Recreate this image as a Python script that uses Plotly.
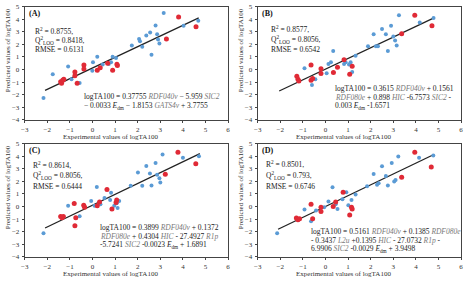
import plotly.graph_objects as go

# ---------------- data ----------------
panels = ["A", "B", "C", "D"]

A_blue_x = [-2.17, -1.76, -1.29, -1.08, -0.93, -0.57, -0.01, 0.02, 0.21, 0.45, 0.72, 0.82, 0.89, 1.04, 1.74, 2.06, 2.10, 2.20, 2.38, 2.55, 2.61, 2.79, 2.86, 2.90, 2.96, 3.15, 4.03, 4.68]
A_blue_y = [-2.25, -0.37, -0.76, 0.24, -0.76, -1.07, -0.10, 0.58, 1.02, 0.40, 0.45, 0.58, 1.02, 0.91, 1.92, 2.43, 2.25, 1.81, 2.71, 2.94, 1.17, 3.51, 2.81, 2.38, 2.07, 4.49, 3.48, 3.87]
A_red_x = [-1.41, -1.37, -1.32, -1.27, -0.78, -0.78, -0.68, -0.38, -0.38, 0.21, 0.34, 0.67, 0.89, 1.08, 1.10, 3.27, 3.81, 4.58]
A_red_y = [-0.96, -1.09, -0.84, -0.76, -0.19, -0.50, -1.09, 0.37, 0.04, -0.06, 0.14, 0.50, -0.06, 0.42, 0.32, 2.43, 4.18, 3.40]

B_blue_x = [-0.93, -0.60, -0.45, 0.05, 0.13, 0.24, 0.34, 0.82, 0.89, 1.04, 1.11, 1.18, 1.33, 1.88, 2.13, 2.23, 2.32, 2.50, 2.67, 2.76, 2.90, 3.00, 3.08, 3.15, 3.25, 4.17, 4.78]
B_blue_y = [0.11, -1.22, -0.76, -0.30, 0.45, 0.58, 1.48, 0.45, 0.58, 0.40, 0.58, -0.19, 1.10, 1.86, 2.81, 1.86, 1.86, 3.23, 2.81, 1.48, 3.48, 2.63, 2.30, 1.92, 4.31, 3.74, 4.10]
B_red_x = [-1.27, -1.22, -1.18, -0.64, -0.64, -0.57, -0.20, -0.20, 0.35, 0.53, 0.82, 1.07, 1.18, 3.37, 3.95, 4.71]
B_red_y = [-0.53, -0.76, -0.91, -0.84, 0.37, -0.71, 0.06, -0.32, -0.24, 0.19, 0.78, -0.37, 0.27, 2.84, 4.31, 3.48]

C_blue_x = [-2.17, -1.08, -0.57, -0.06, 0.09, 0.19, 0.35, 0.53, 0.78, 0.82, 0.96, 1.07, 1.11, 1.18, 1.69, 2.01, 2.20, 2.38, 2.54, 2.61, 2.79, 2.86, 2.96, 3.00, 3.10, 4.00, 4.71]
C_blue_y = [-2.12, 0.06, -0.76, 0.45, 0.06, 1.56, 0.19, 0.68, 0.53, 1.09, 0.06, 0.27, -0.12, 0.45, 1.66, 2.71, 1.66, 3.23, 2.63, 1.68, 3.46, 2.53, 2.25, 1.92, 4.13, 3.87, 4.00]
C_red_x = [-1.41, -1.35, -1.29, -0.81, -0.78, -0.74, -0.39, -0.35, 0.21, 0.31, 0.64, 0.86, 1.04, 1.07, 3.22, 3.78, 4.57]
C_red_y = [-0.78, -0.89, -0.78, 0.24, -1.53, -0.89, 0.11, -0.06, 0.06, 0.37, 1.35, -0.19, 0.32, 0.53, 2.56, 4.31, 3.41]

D_blue_x = [-2.14, -0.93, -0.64, -0.42, -0.06, 0.13, 0.31, 0.45, 0.53, 0.75, 0.92, 1.01, 1.15, 1.33, 1.84, 2.13, 2.28, 2.35, 2.50, 2.67, 2.76, 2.93, 3.04, 3.10, 3.22, 4.14, 4.77]
D_blue_y = [-2.12, -0.24, -1.17, -0.32, -0.06, 0.40, 1.53, 0.19, -0.19, 0.58, 1.14, 0.11, 0.53, 0.96, 1.61, 2.58, 1.74, 1.86, 3.20, 2.43, 1.68, 3.46, 2.00, 2.12, 3.97, 3.87, 4.05]
D_red_x = [-1.29, -1.22, -1.15, -0.64, -0.57, -0.20, -0.20, 0.34, 0.45, 0.78, 1.07, 1.18, 1.15, 3.37, 3.95, 4.68]
D_red_y = [-0.91, -1.04, -0.96, 0.19, -0.96, -0.06, -0.39, 0.01, 0.37, 1.14, -0.66, -0.19, -0.06, 2.33, 4.31, 3.14]

fit_x = {"A": [-2.1, 4.7], "B": [-2.05, 4.8], "C": [-2.1, 4.75], "D": [-2.1, 4.75]}
fit_y = {"A": [-1.65, 4.1], "B": [-1.7, 4.1], "C": [-1.7, 4.2], "D": [-1.8, 4.1]}

VAR = '<span style="color:#7a7a7a"><i>%s</i></span>'

stats = {
    "A": ["R<sup>2</sup> = 0.8755,", "Q<sup>2</sup><sub>LOO</sub> = 0.8418,", "RMSE = 0.6131"],
    "B": ["R<sup>2</sup> = 0.8577,", "Q<sup>2</sup><sub>LOO</sub> = 0.8056,", "RMSE = 0.6542"],
    "C": ["R<sup>2</sup> = 0.8614,", "Q<sup>2</sup><sub>LOO</sub> = 0.8056,", "RMSE = 0.6444"],
    "D": ["R<sup>2</sup> = 0.8501,", "Q<sup>2</sup><sub>LOO</sub> = 0.793,", "RMSE = 0.6746"],
}
equations = {
    "A": ["logTA100 = 0.37755 " + VAR % "RDF040v" + " − 5.959 " + VAR % "SIC2",
          "− 0.0033 <i>E</i><sub>dm</sub> − 1.8153 " + VAR % "GATS4v" + " + 3.7755"],
    "B": ["logTA100 = 0.3615 " + VAR % "RDF040v" + " + 0.1561",
          VAR % "RDF080e" + " + 0.898 " + VAR % "HIC" + " -6.7573 " + VAR % "SIC2" + " -",
          "0.003 <i>E</i><sub>dm</sub> -1.6571"],
    "C": ["logTA100 = 0.3899 " + VAR % "RDF040v" + " + 0.1372",
          VAR % "RDF080e" + " + 0.4304 " + VAR % "HIC" + " - 27.4927 " + VAR % "R1p",
          "-5.7241 " + VAR % "SIC2" + " -0.0023 <i>E</i><sub>dm</sub> + 1.6891"],
    "D": ["logTA100 = 0.5161 " + VAR % "RDF040v" + " + 0.1385 " + VAR % "RDF080e",
          "- 0.3437 " + VAR % "L2u" + " +0.1395 " + VAR % "HIC" + " - 27.0732 " + VAR % "R1p" + " -",
          "6.9906 " + VAR % "SIC2" + " -0.0029 <i>E</i><sub>dm</sub> + 3.9498"],
}

x_ticks = [-3, -2, -1, 0, 1, 2, 3, 4, 5, 6]
y_ticks = [-4, -3, -2, -1, 0, 1, 2, 3, 4, 5]
x_title = "Experimental values of logTA100"
y_title = "Predicted values of logTA100"

blue_x = {"A": A_blue_x, "B": B_blue_x, "C": C_blue_x, "D": D_blue_x}
blue_y = {"A": A_blue_y, "B": B_blue_y, "C": C_blue_y, "D": D_blue_y}
red_x = {"A": A_red_x, "B": B_red_x, "C": C_red_x, "D": D_red_x}
red_y = {"A": A_red_y, "B": B_red_y, "C": C_red_y, "D": D_red_y}

# ---------------- layout geometry ----------------
W, H = 471, 283
FONT = "Liberation Serif, Times New Roman, serif"
BLUE = "#5b9bd5"
RED = "#e02a36"

boxes = {"A": (21, 227, 2.7, 119.3), "B": (257, 463, 2.7, 119.3),
         "C": (21, 227, 143.7, 260.3), "D": (257, 463, 143.7, 260.3)}
stat_pos = {"A": (-2.65, [3.05, 2.28, 1.58]), "B": (-2.52, [3.2, 2.35, 1.58]),
            "C": (-2.74, [3.28, 2.43, 1.58]), "D": (-2.74, [3.36, 2.43, 1.58])}
eq_pos = {"A": (-0.46, [-2.12, -2.89]), "B": (0.32, [-1.5, -2.2, -2.89]),
          "C": (0.24, [-1.66, -2.35, -3.05]), "D": (-0.73, [-1.97, -2.66, -3.36])}

fig = go.Figure()
annotations = []
layout = {}
for i, p in enumerate(panels):
    n = "" if i == 0 else str(i + 1)
    xa, ya = "x" + n, "y" + n
    l, r, t, b = boxes[p]
    fig.add_trace(go.Scatter(x=fit_x[p], y=fit_y[p], mode="lines",
                             line=dict(color="#222222", width=1.3),
                             xaxis=xa, yaxis=ya, showlegend=False, hoverinfo="skip"))
    fig.add_trace(go.Scatter(x=blue_x[p], y=blue_y[p], mode="markers",
                             marker=dict(color=BLUE, size=4, symbol="circle"),
                             xaxis=xa, yaxis=ya, showlegend=False))
    fig.add_trace(go.Scatter(x=red_x[p], y=red_y[p], mode="markers",
                             marker=dict(color=RED, size=5, symbol="circle"),
                             xaxis=xa, yaxis=ya, showlegend=False))
    common = dict(showgrid=False, zeroline=False, showline=True, mirror=True,
                  linecolor="#444444", linewidth=1, ticks="outside", ticklen=2,
                  tickcolor="#444444", tickfont=dict(family=FONT, size=7, color="#333333"))
    layout["xaxis" + n] = dict(domain=[l / W, r / W], range=[-3, 6], tickvals=x_ticks,
                               anchor=ya, ticklabelstandoff=1, **common)
    layout["yaxis" + n] = dict(domain=[1 - b / H, 1 - t / H], range=[-4, 5], tickvals=y_ticks,
                               anchor=xa, ticklabelstandoff=1, **common)
    annotations.append(dict(text=x_title, x=(l + 87) / W, y=1 - (b + 18) / H,
                            xref="paper", yref="paper", showarrow=False,
                            font=dict(family=FONT, size=7, color="#333333"),
                            xanchor="center", yanchor="middle"))
    annotations.append(dict(text=y_title, x=(l - 17) / W, y=1 - (t + 45) / H,
                            xref="paper", yref="paper", showarrow=False, textangle=-90,
                            font=dict(family=FONT, size=7, color="#333333"),
                            xanchor="center", yanchor="middle"))
    annotations.append(dict(text="<b>(" + p + ")</b>", x=-2.9, y=4.43, xref=xa, yref=ya,
                            showarrow=False, xanchor="left", yanchor="middle",
                            font=dict(family=FONT, size=8, color="#111111")))
    sx, sys_ = stat_pos[p]
    for txt, yy in zip(stats[p], sys_):
        annotations.append(dict(text=txt, x=sx, y=yy, xref=xa, yref=ya, showarrow=False,
                                xanchor="left", yanchor="middle",
                                font=dict(family=FONT, size=7.5, color="#222222")))
    ex, eys = eq_pos[p]
    for txt, yy in zip(equations[p], eys):
        annotations.append(dict(text=txt, x=ex, y=yy, xref=xa, yref=ya, showarrow=False,
                                xanchor="left", yanchor="middle",
                                font=dict(family=FONT, size=7.5, color="#222222")))

fig.update_layout(width=W, height=H, margin=dict(l=0, r=0, t=0, b=0),
                  paper_bgcolor="white", plot_bgcolor="white",
                  annotations=annotations, **layout)
fig.write_html("out.html")
